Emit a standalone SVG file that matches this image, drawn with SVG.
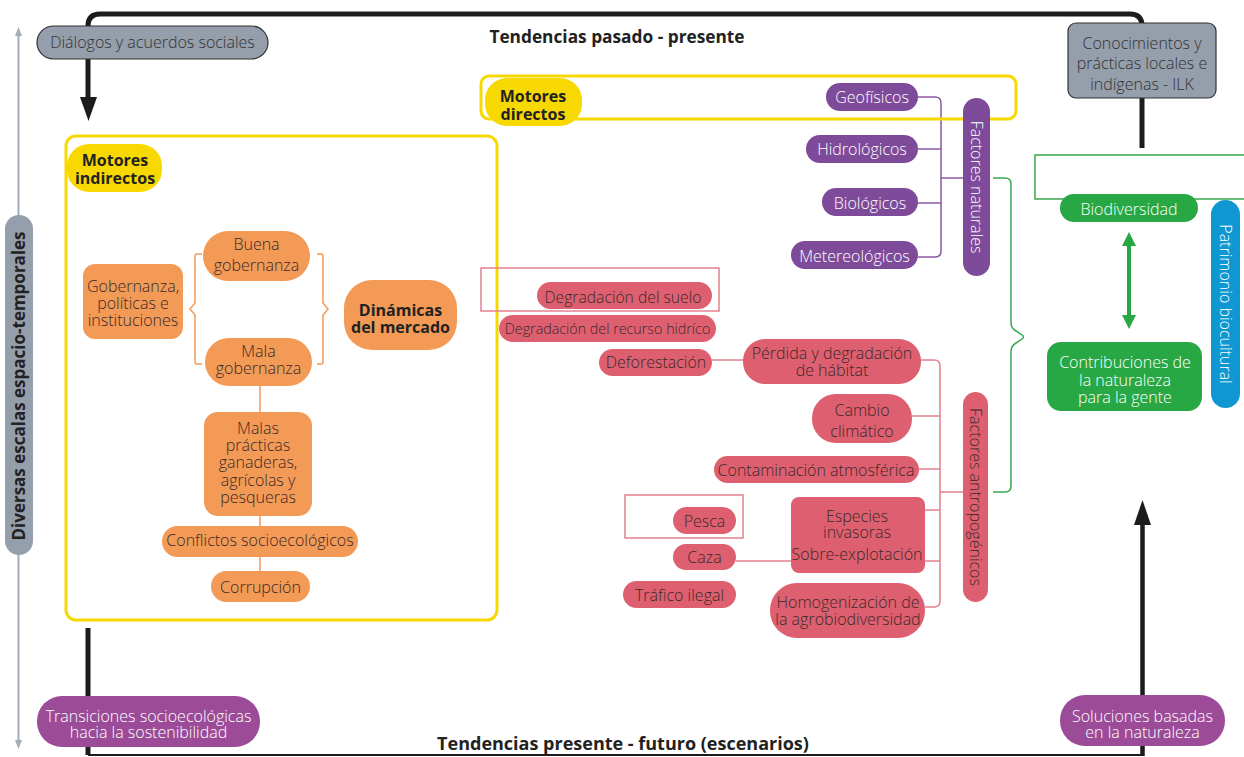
<svg xmlns="http://www.w3.org/2000/svg" width="1244" height="757" viewBox="0 0 1244 757">
<style>
.t{font-family:"Open Sans","Liberation Sans",sans-serif;font-weight:300;font-size:16px;text-anchor:middle}
.b{font-family:"Open Sans","Liberation Sans",sans-serif;font-weight:700;font-size:16px;text-anchor:middle;fill:#222}
.dk{fill:#3a2a2a}
.wh{fill:#ffffff}
.or{fill:#f39a56}
.rd{fill:#de5f6f}
.pu{fill:#7e4b9a}
.pb{fill:#9b4b97}
.gr{fill:#27a844}
.gy{fill:#959eab}
.ye{fill:#f7d800}
.yb{fill:none;stroke:#f7d800;stroke-width:3}
.ro{fill:none;stroke:#e3808d;stroke-width:1.5}
.blk{fill:none;stroke:#1c1c1c;stroke-linecap:butt}
</style>
<g id="connectors">
  <path class="blk" d="M88,100 V26 Q88,14 100,14 H1130 Q1142,14 1142,26 V148" stroke-width="5"/>
  <polygon points="80,97 97,97 88.5,121" fill="#1c1c1c"/>
  <path class="blk" d="M88,628 V755" stroke-width="5"/>
  <path class="blk" d="M88,755 H1142" stroke-width="2"/>
  <path class="blk" d="M1142.5,756 V520" stroke-width="4.5"/>
  <polygon points="1134,525 1151,525 1142.5,500" fill="#1c1c1c"/>
  <line x1="18.5" y1="33" x2="18.5" y2="743" stroke="#a3adb7" stroke-width="2"/>
  <polygon points="15,36 22,36 18.5,27" fill="#a3adb7"/>
  <polygon points="15,740 22,740 18.5,749" fill="#a3adb7"/>
  <g fill="none" stroke="#f39a56" stroke-width="1.5">
    <line x1="260" y1="386" x2="260" y2="571"/>
    <path d="M202,254 H197 Q195,254 195,256 V303 L190,309 L195,315 V362 Q195,364 197,364 H202"/>
    <path d="M317,254 H321 Q323,254 323,256 V303 L328,309 L323,315 V362 Q323,364 321,364 H317"/>
  </g>
  <g fill="none" stroke="#e3808d" stroke-width="1.5">
    <line x1="712" y1="360" x2="743" y2="360"/>
    <line x1="736" y1="561" x2="791" y2="561"/>
    <path d="M921,360 H934 Q940,360 940,366 V601 Q940,607 934,607 H925"/>
    <line x1="912" y1="416" x2="940" y2="416"/>
    <line x1="919" y1="469" x2="940" y2="469"/>
    <line x1="925" y1="510" x2="940" y2="510"/>
    <line x1="925" y1="561" x2="940" y2="561"/>
    <line x1="940" y1="492" x2="963" y2="492"/>
  </g>
  <g fill="none" stroke="#8b5aa5" stroke-width="1.5">
    <path d="M918,97 H935 Q941,97 941,103 V251 Q941,257 935,257 H918"/>
    <line x1="918" y1="149" x2="941" y2="149"/>
    <line x1="918" y1="203" x2="941" y2="203"/>
    <line x1="941" y1="178" x2="963" y2="178"/>
  </g>
  <path d="M993,178 H1005 Q1011,178 1011,184 V323 Q1011,328 1016,331 L1022,335 Q1025,337 1022,339 L1016,343 Q1011,346 1011,351 V486 Q1011,492 1005,492 H993" fill="none" stroke="#3aa64c" stroke-width="1.5"/>
  <rect x="1035" y="155" width="220" height="44" fill="none" stroke="#3aa64c" stroke-width="1.5"/>
  <line x1="1129" y1="244" x2="1129" y2="317" stroke="#27a844" stroke-width="4"/>
  <polygon points="1122,246 1136,246 1129,232" fill="#27a844"/>
  <polygon points="1122,315 1136,315 1129,329" fill="#27a844"/>
</g>
<g id="title-top"><text class="b" x="617" y="43" style="font-size:17.3px">Tendencias pasado - presente</text></g>
<g id="title-bottom"><text class="b" x="623" y="750" style="font-size:18px">Tendencias presente - futuro (escenarios)</text></g>
<g id="axis">
  <rect class="gy" x="5" y="215" width="28" height="340" rx="14"/>
  <text class="b" transform="translate(25,386) rotate(-90)" x="0" y="0" style="font-size:17px">Diversas escalas espacio-temporales</text>
</g>
<g id="dialogos">
  <rect class="gy" x="37" y="26" width="231" height="33" rx="16.5" stroke="#333" stroke-width="1.2"/>
  <text class="t" x="152.5" y="48" fill="#333">Diálogos y acuerdos sociales</text>
</g>
<g id="ilk">
  <rect class="gy" x="1068" y="23" width="148" height="75" rx="8" stroke="#333" stroke-width="1.2"/>
  <text class="t" x="1142" y="49" fill="#333">Conocimientos y</text>
  <text class="t" x="1142" y="69" fill="#333">prácticas locales e</text>
  <text class="t" x="1142" y="90" fill="#333">indígenas - ILK</text>
</g>
<g id="motores-indirectos">
  <rect class="yb" x="66" y="136" width="431" height="484" rx="10"/>
  <rect class="ye" x="67" y="144" width="95" height="48" rx="22"/>
  <text class="b" x="115" y="166">Motores</text>
  <text class="b" x="115" y="184">indirectos</text>
</g>
<g id="motores-directos">
  <rect class="yb" x="481" y="76" width="535" height="43" rx="8"/>
  <rect class="ye" x="485" y="78" width="97" height="48" rx="22"/>
  <text class="b" x="533" y="102">Motores</text>
  <text class="b" x="533" y="120">directos</text>
</g>
<g id="buena-gobernanza">
  <rect class="or" x="203" y="231" width="107" height="50" rx="25"/>
  <text class="t dk" x="256.5" y="250">Buena</text>
  <text class="t dk" x="256.5" y="271">gobernanza</text>
</g>
<g id="mala-gobernanza">
  <rect class="or" x="205" y="338" width="107" height="48" rx="24"/>
  <text class="t dk" x="258.5" y="357">Mala</text>
  <text class="t dk" x="258.5" y="374">gobernanza</text>
</g>
<g id="gobernanza">
  <rect class="or" x="83" y="264" width="100" height="75" rx="12"/>
  <text class="t dk" x="133" y="292">Gobernanza,</text>
  <text class="t dk" x="133" y="309">políticas e</text>
  <text class="t dk" x="133" y="326">instituciones</text>
</g>
<g id="dinamicas">
  <rect class="or" x="344" y="280" width="113" height="70" rx="28"/>
  <text class="b" x="400.5" y="316">Dinámicas</text>
  <text class="b" x="400.5" y="333">del mercado</text>
</g>
<g id="malas-practicas">
  <rect class="or" x="204" y="412" width="108" height="104" rx="14"/>
  <text class="t dk" x="258" y="434">Malas</text>
  <text class="t dk" x="258" y="451">prácticas</text>
  <text class="t dk" x="258" y="468">ganaderas,</text>
  <text class="t dk" x="258" y="486">agrícolas y</text>
  <text class="t dk" x="258" y="503">pesqueras</text>
</g>
<g id="conflictos">
  <rect class="or" x="162" y="526" width="196" height="31" rx="15.5"/>
  <text class="t dk" x="260" y="546">Conflictos socioecológicos</text>
</g>
<g id="corrupcion">
  <rect class="or" x="211" y="571" width="99" height="31" rx="15.5"/>
  <text class="t dk" x="260.5" y="593">Corrupción</text>
</g>
<g id="degradacion-suelo">
  <rect class="ro" x="481" y="268" width="238" height="43"/>
  <rect class="rd" x="537" y="282" width="175" height="27" rx="13.5"/>
  <text class="t dk" x="623" y="303" style="font-size:15.7px">Degradación del suelo</text>
</g>
<g id="degradacion-hidrico">
  <rect class="rd" x="499" y="315" width="217" height="27" rx="13.5"/>
  <text class="t dk" x="607.5" y="334" style="font-size:14.3px">Degradación del recurso hidríco</text>
</g>
<g id="deforestacion">
  <rect class="rd" x="599" y="349" width="113" height="27" rx="13.5"/>
  <text class="t dk" x="656" y="368">Deforestación</text>
</g>
<g id="perdida-habitat">
  <rect class="rd" x="743" y="339" width="178" height="45" rx="22"/>
  <text class="t dk" x="832" y="359">Pérdida y degradación</text>
  <text class="t dk" x="832" y="376">de hábitat</text>
</g>
<g id="cambio-climatico">
  <rect class="rd" x="812" y="394" width="100" height="49" rx="24"/>
  <text class="t dk" x="862" y="416">Cambio</text>
  <text class="t dk" x="862" y="437">climático</text>
</g>
<g id="contaminacion">
  <rect class="rd" x="714" y="456" width="205" height="27" rx="13.5"/>
  <text class="t dk" x="816" y="476">Contaminación atmosférica</text>
</g>
<g id="pesca">
  <rect class="ro" x="625" y="495" width="118" height="43"/>
  <rect class="rd" x="673" y="507" width="63" height="27" rx="13.5"/>
  <text class="t dk" x="704.5" y="527">Pesca</text>
</g>
<g id="caza">
  <rect class="rd" x="673" y="544" width="63" height="26" rx="13"/>
  <text class="t dk" x="704.5" y="563">Caza</text>
</g>
<g id="trafico">
  <rect class="rd" x="623" y="581" width="113" height="27" rx="13.5"/>
  <text class="t dk" x="679.5" y="601">Tráfico ilegal</text>
</g>
<g id="especies">
  <rect class="rd" x="791" y="497" width="134" height="76" rx="8"/>
  <text class="t dk" x="857" y="522">Especies</text>
  <text class="t dk" x="857" y="538">invasoras</text>
  <text class="t dk" x="857" y="560">Sobre-explotación</text>
</g>
<g id="homogenizacion">
  <rect class="rd" x="770" y="583" width="155" height="55" rx="27"/>
  <text class="t dk" x="848" y="608">Homogenización de</text>
  <text class="t dk" x="848" y="625">la agrobiodiversidad</text>
</g>
<g id="factores-antropogenicos">
  <rect class="rd" x="963" y="392" width="25" height="210" rx="12.5"/>
  <text class="t dk" transform="translate(970,497) rotate(90)" x="0" y="0">Factores antropogénicos</text>
</g>
<g id="geofisicos">
  <rect class="pu" x="826" y="83" width="92" height="28" rx="14"/>
  <text class="t wh" x="872" y="103">Geofísicos</text>
</g>
<g id="hidrologicos">
  <rect class="pu" x="806" y="135" width="112" height="28" rx="14"/>
  <text class="t wh" x="862" y="155">Hidrológicos</text>
</g>
<g id="biologicos">
  <rect class="pu" x="822" y="188" width="96" height="28" rx="14"/>
  <text class="t wh" x="870" y="209">Biológicos</text>
</g>
<g id="metereologicos">
  <rect class="pu" x="791" y="241" width="127" height="28" rx="14"/>
  <text class="t wh" x="854.5" y="262">Metereológicos</text>
</g>
<g id="factores-naturales">
  <rect class="pu" x="963" y="98" width="27" height="178" rx="13.5"/>
  <text class="t wh" transform="translate(971,187) rotate(90)" x="0" y="0">Factores naturales</text>
</g>
<g id="biodiversidad">
  <rect class="gr" x="1060" y="194" width="138" height="28" rx="14"/>
  <text class="t wh" x="1129" y="215">Biodiversidad</text>
</g>
<g id="contribuciones">
  <rect class="gr" x="1047" y="342" width="155" height="69" rx="14"/>
  <text class="t wh" x="1125" y="368">Contribuciones de</text>
  <text class="t wh" x="1125" y="386">la naturaleza</text>
  <text class="t wh" x="1125" y="403">para la gente</text>
</g>
<g id="patrimonio">
  <rect x="1211" y="200" width="29" height="208" rx="14.5" fill="#0f97d2"/>
  <text class="t wh" transform="translate(1220,304) rotate(90)" x="0" y="0">Patrimonio biocultural</text>
</g>
<g id="transiciones">
  <rect class="pb" x="37" y="696" width="223" height="51" rx="25"/>
  <text class="t wh" x="148.5" y="722">Transiciones socioecológicas</text>
  <text class="t wh" x="148.5" y="738">hacia la sostenibilidad</text>
</g>
<g id="soluciones">
  <rect class="pb" x="1060" y="695" width="165" height="51" rx="25"/>
  <text class="t wh" x="1142.5" y="722">Soluciones basadas</text>
  <text class="t wh" x="1142.5" y="738">en la naturaleza</text>
</g>
</svg>
